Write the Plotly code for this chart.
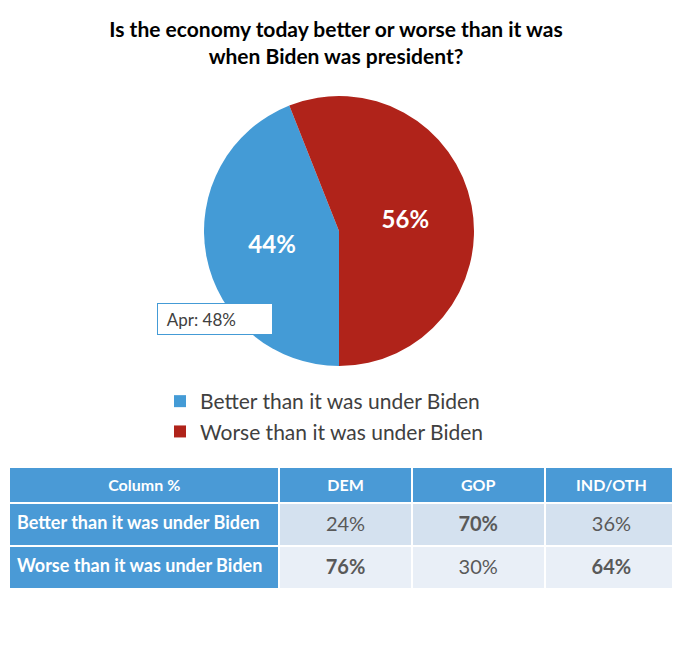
import plotly.graph_objects as go

# pie data
labels = ["Better than it was under Biden", "Worse than it was under Biden"]
values = [44, 56]
pie_colors = ["#449bd6", "#b0231a"]
prev_note = "Apr: 48%"

# crosstab data
table_header = ["Column %", "DEM", "GOP", "IND/OTH"]
row_labels = ["Better than it was under Biden", "Worse than it was under Biden"]
dem = ["24%", "<b>76%</b>"]
gop = ["<b>70%</b>", "30%"]
ind = ["36%", "<b>64%</b>"]

W, H = 680, 647
FONT = "Lato"


def tag(s):
    # every cell goes through the same html path so they line up
    return s if s.startswith("<b>") else "<span>%s</span>" % s


fig = go.Figure()

fig.add_trace(go.Pie(
    labels=labels,
    values=values,
    marker=dict(colors=pie_colors),
    sort=False,
    direction="clockwise",
    rotation=180,
    textinfo="percent",
    texttemplate="<b>%{percent:.0%}</b>",
    textposition="inside",
    insidetextorientation="horizontal",
    textfont=dict(color="white", size=24, family=FONT),
    domain=dict(x=[195 / W, 467 / W], y=[1 - 358 / H, 1 - 88 / H]),
    hoverinfo="label+percent",
))

blue_hdr = "#4a9ad6"
row_fill = ["#d4e1ef", "#e9eff7"]

fig.add_trace(go.Table(
    domain=dict(x=[1 / W, 670 / W], y=[1 - 584 / H, 1 - 459 / H]),
    columnwidth=[266, 130, 131, 131],
    header=dict(
        values=["<b>%s</b>" % h for h in table_header],
        fill_color=blue_hdr,
        line=dict(color="white", width=2),
        font=dict(color="white", size=16, family=FONT),
        align="center",
        height=36,
    ),
    cells=dict(
        values=[["<b>%s</b>" % r for r in row_labels],
                [tag(v) for v in dem], [tag(v) for v in gop], [tag(v) for v in ind]],
        fill_color=[[blue_hdr, blue_hdr], row_fill, row_fill, row_fill],
        line=dict(color="white", width=2),
        font=dict(color=[["white", "white"], ["#595959"] * 2, ["#595959"] * 2, ["#595959"] * 2],
                  size=[18, 20, 20, 20], family=FONT),
        align=["left", "center", "center", "center"],
        height=43,
    ),
))

fig.add_annotation(
    x=149 / W, y=1 - 311 / H, xref="paper", yref="paper",
    xanchor="left", yanchor="middle",
    text="&nbsp;" + prev_note, showarrow=False,
    font=dict(size=17, color="#404040", family=FONT),
    bgcolor="white", bordercolor="#449bd6", borderwidth=1,
    borderpad=5, width=104, height=20, align="left",
)

fig.update_layout(
    width=W, height=H,
    margin=dict(l=0, r=0, t=0, b=0),
    paper_bgcolor="white",
    title=dict(
        text="<b>Is the economy today better or worse than it was<br>when Biden was president?</b>",
        x=0.5 - 12 / W, xanchor="center", y=1 - 29 / H, yanchor="top",
        font=dict(size=21, color="black", family=FONT),
    ),
    legend=dict(
        x=152 / W, y=1 - 373 / H, xanchor="left", yanchor="top",
        font=dict(size=21, color="#404040", family=FONT),
        tracegroupgap=6,
    ),
    showlegend=True,
)

fig.write_html("out.html")
